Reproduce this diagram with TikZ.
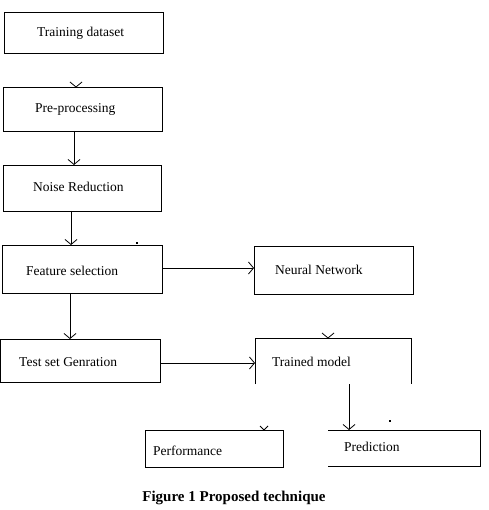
\documentclass[tikz,border=0pt]{standalone}
\usepackage{fontspec}
\setmainfont{Liberation Serif}
\usetikzlibrary{arrows.meta,calc}
\begin{document}
\begin{tikzpicture}[x=1pt,y=-1pt,
  box/.style={draw,line width=0.8pt,inner sep=0pt,outer sep=0pt},
  lbl/.style={anchor=west,inner sep=0pt,font=\fontsize{13.5}{16}\selectfont},
  conn/.style={line width=0.8pt,-{Straight Barb[length=5pt,width=12pt,line width=0.8pt]}},
  stray/.style={line width=0.8pt},
  openbox/.style={line width=0.8pt},
  speck/.style={fill=black,inner sep=0pt,minimum size=1.2pt}]
\useasboundingbox (0,0) rectangle (488,510);
% closed boxes
\node[box,minimum width=159pt,minimum height=41pt] (td) at (83.5,32.5) {};
\node[box,minimum width=159pt,minimum height=44pt] (pp) at (82.5,109) {};
\node[box,minimum width=158pt,minimum height=46pt] (nr) at (82,188) {};
\node[box,minimum width=160pt,minimum height=48pt] (fs) at (82,269) {};
\node[box,minimum width=159pt,minimum height=48pt] (nn) at (333.5,270) {};
\node[box,minimum width=160pt,minimum height=43pt] (tsg) at (80,360.5) {};
\node[box,minimum width=138pt,minimum height=37pt] (perf) at (214,448.5) {};
% open boxes
\coordinate (tmtl) at (255,338);
\coordinate (tmtr) at (411,338);
\coordinate (tmbl) at (255,384);
\coordinate (tmbr) at (411,384);
\draw[openbox] (tmbl) -- (tmtl) -- (tmtr) -- (tmbr);
\coordinate (prtl) at (328,430);
\coordinate (prtr) at (480,430);
\coordinate (prbr) at (480,466);
\coordinate (prbl) at (328,466);
\draw[openbox] (prtl) -- (prtr) -- (prbr) -- (prbl);
% labels
\node[lbl] (tdl) at (37,33) {Training dataset};
\node[lbl] (ppl) at (35,109) {Pre-processing};
\node[lbl] (nrl) at (33,187) {Noise Reduction};
\node[lbl] (fsl) at (26,271) {Feature selection};
\node[lbl] (nnl) at (275,270) {Neural Network};
\node[lbl] (tsgl) at (19,362) {Test set Genration};
\node[lbl] (tml) at (272,362) {Trained model};
\node[lbl] (perfl) at (153,451) {Performance};
\node[lbl] (prl) at (344,447) {Prediction};
% connectors
\draw[conn] (pp.south -| 74,0) -- (nr.north -| 74,0);
\draw[conn] (nr.south -| 71,0) -- (fs.north -| 71,0);
\draw[conn] (fs.east |- 0,268) -- (nn.west |- 0,268);
\draw[conn] (fs.south -| 70,0) -- (tsg.north -| 70,0);
\draw[conn] (tsg.east |- 0,363) -- (tmtl |- 0,363);
\coordinate (tmout) at (349,384);
\coordinate (prin) at (349,430);
\draw[conn] (tmout) -- (prin);
% stray arrowheads
\coordinate (s1) at (76,87);
\draw[stray] ($(s1)+(-6,-5)$) -- (s1) -- ($(s1)+(6,-5)$);
\coordinate (s2) at (328,338);
\draw[stray] ($(s2)+(-6,-5)$) -- (s2) -- ($(s2)+(6,-5)$);
\coordinate (s3) at (264,430);
\draw[stray] ($(s3)+(-4,-4)$) -- (s3) -- ($(s3)+(4,-4)$);
% specks
\node[speck] (d1) at (137,243) {};
\node[speck] (d2) at (390,421) {};
% caption
\node[inner sep=0pt,font=\bfseries\fontsize{15}{18}\selectfont] (cap) at (234,498) {Figure 1 Proposed technique};
\end{tikzpicture}
\end{document}
